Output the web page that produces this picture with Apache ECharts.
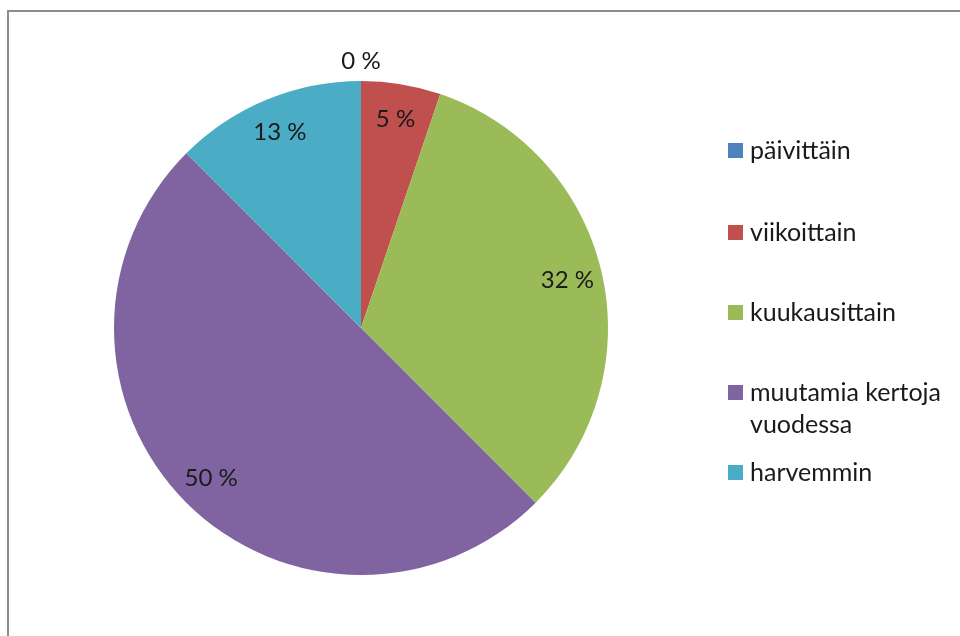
<!DOCTYPE html>
<html><head><meta charset="utf-8">
<script src="https://cdn.jsdelivr.net/npm/echarts@6/dist/echarts.min.js"></script>
<style>html,body{margin:0;padding:0;background:#fff}#c{width:960px;height:636px}</style>
</head><body><div id="c"></div>
<script>
// ---- data ----
const categories = ['päivittäin', 'viikoittain', 'kuukausittain', 'muutamia kertoja vuodessa', 'harvemmin'];
const legendLabels = ['päivittäin', 'viikoittain', 'kuukausittain', 'muutamia kertoja\nvuodessa', 'harvemmin'];
const values = [0, 5.2, 32.3, 50, 12.5];   // percent shares
const colors = ['#4F81BD', '#C0504D', '#9BBB59', '#8064A2', '#4BACC6'];

// ---- layout / style ----
const FONT = 'Lato';
const FS_LABEL = 24;
const FS_LEGEND = 25;
const TXT = '#1a1a1a';
const CX = 361, CY = 328, R = 247, R_LABEL = 209;
const R_IN = 2 * R_LABEL - R;
const LINE_H = 32;
const markerTops = [143, 225, 305, 385, 465];

const total = values.reduce((a, b) => a + b, 0);
const pct = v => Math.round(v / total * 100) + ' %';

const legends = categories.map((name, i) => {
  const multi = legendLabels[i].indexOf('\n') >= 0;
  return {
    data: [name], orient: 'vertical', left: 728,
    top: markerTops[i] - (multi ? (LINE_H * 3 - 15) / 2 : (LINE_H - 15) / 2),
    padding: 0, itemWidth: 15, itemHeight: 15, icon: 'rect', selectedMode: false,
    // multi-line labels: an empty leading line keeps the first text line level with the marker
    formatter: n => { const t = legendLabels[categories.indexOf(n)]; return t.indexOf('\n') >= 0 ? '\n' + t : t; },
    textStyle: { fontFamily: FONT, fontSize: FS_LEGEND, color: TXT, lineHeight: LINE_H, padding: [0, 0, 0, 2] }
  };
});

const chart = echarts.init(document.getElementById('c'), null, { renderer: 'canvas' });
chart.setOption({
  backgroundColor: '#ffffff',
  animation: false,
  graphic: [{ type: 'rect', silent: true, shape: { x: 8, y: 11, width: 1000, height: 700 },
    style: { fill: 'none', stroke: '#8c8c8c', lineWidth: 2 } }],
  legend: legends,
  series: [
    {
      type: 'pie', center: [CX, CY], radius: [0, R], startAngle: 90, clockwise: true,
      silent: true, avoidLabelOverlap: false,
      label: { show: false }, labelLine: { show: false },
      itemStyle: { borderWidth: 0 },
      data: categories.map((n, i) => ({ name: n, value: values[i], itemStyle: { color: colors[i] } }))
    },
    {
      type: 'pie', center: [CX, CY], radius: [R_IN, R], startAngle: 90, clockwise: true,
      silent: true, avoidLabelOverlap: false,
      itemStyle: { color: 'rgba(0,0,0,0)', borderWidth: 0 },
      labelLine: { show: false },
      label: { show: true, position: 'inside', formatter: p => pct(p.value),
        fontFamily: FONT, fontSize: FS_LABEL, color: TXT },
      data: categories.map((n, i) => {
        const d = { name: n, value: values[i] };
        if (values[i] === 0) d.label = { offset: [0, -55] };
        return d;
      })
    }
  ]
});
</script></body></html>
